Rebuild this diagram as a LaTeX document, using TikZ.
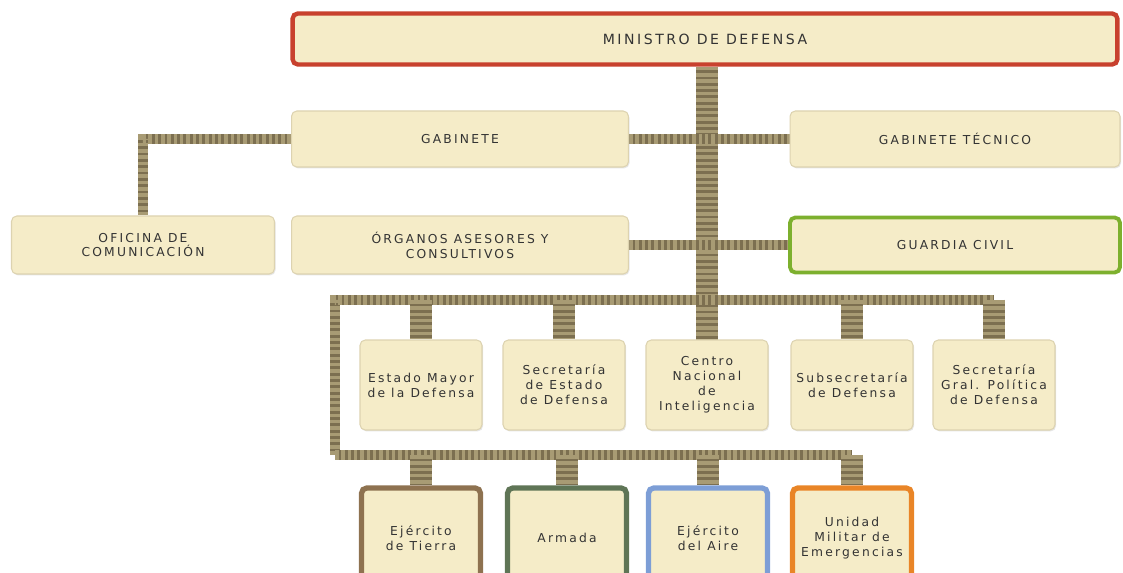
\documentclass[tikz,border=0pt]{standalone}
\usepackage{fontspec}
\setmainfont{DejaVu Sans}[LetterSpace=18]
\usetikzlibrary{shadows,backgrounds}

\definecolor{paper}{HTML}{F5ECC8}
\definecolor{paperedge}{HTML}{DDD3B0}
\definecolor{ropedark}{HTML}{7C6F50}
\definecolor{ropelight}{HTML}{A89B74}
\definecolor{minred}{HTML}{C8412E}
\definecolor{civgreen}{HTML}{7DB02E}
\definecolor{tierra}{HTML}{8E7250}
\definecolor{armada}{HTML}{5F7556}
\definecolor{aire}{HTML}{7D9ED6}
\definecolor{ume}{HTML}{E98527}
\definecolor{ink}{HTML}{333333}

\tikzset{
  unit/.style={draw=paperedge, line width=0.6pt, fill=paper, rounded corners=3pt,
    text=ink, align=center, inner sep=2pt, font=\fontsize{7}{8.5}\selectfont,
    drop shadow={opacity=0.2, shadow xshift=0.6pt, shadow yshift=-0.8pt}},
  bigbox/.style={unit, minimum width=6.74cm, minimum height=1.12cm},
  subbox/.style={unit, minimum width=2.44cm, minimum height=1.8cm},
  armbox/.style={unit, minimum width=2.38cm, minimum height=2cm, line width=3pt, draw=#1},
  rope/.style={line width=12.5pt, draw=ropedark,
    postaction={draw=ropelight, line width=12.5pt, dash pattern=on 2pt off 1.6pt}},
  ropethin/.style={line width=6.2pt, draw=ropedark,
    postaction={draw=ropelight, line width=6.2pt, dash pattern=on 2pt off 1.6pt}}
}

\begin{document}
\begin{tikzpicture}[x=0.02cm, y=-0.02cm]
  \clip (0,0) rectangle (1123,573);

  % top
  \node[unit, minimum width=16.5cm, minimum height=1.02cm, draw=minred, line width=2.5pt,
    font=\fontsize{8}{9.5}\selectfont] (min) at (705,39) {MINISTRO DE DEFENSA};

  % second and third rows
  \node[bigbox] (gab) at (460,139) {GABINETE};
  \node[bigbox, minimum width=6.6cm] (gtec) at (955,139) {GABINETE TÉCNICO};
  \node[unit, minimum width=5.26cm, minimum height=1.16cm] (ofi) at (143,245) {OFICINA DE\\COMUNICACIÓN};
  \node[bigbox, minimum height=1.16cm] (org) at (460,245) {ÓRGANOS ASESORES Y\\CONSULTIVOS};
  \node[bigbox, minimum width=6.6cm, minimum height=1.1cm, draw=civgreen, line width=2.2pt] (gc) at (955,245) {GUARDIA CIVIL};

  % organs
  \node[subbox] (est) at (421,385) {Estado Mayor\\de la Defensa};
  \node[subbox] (sed) at (564,385) {Secretaría\\de Estado\\de Defensa};
  \node[subbox] (cni) at (707,385) {Centro\\Nacional\\de\\Inteligencia};
  \node[subbox] (sub) at (852,385) {Subsecretaría\\de Defensa};
  \node[subbox] (sgp) at (994,385) {Secretaría\\Gral. Política\\de Defensa};

  % armies
  \node[armbox=tierra] (tie) at (421,538) {Ejército\\de Tierra};
  \node[armbox=armada] (arm) at (567,538) {Armada};
  \node[armbox=aire] (aire) at (708,538) {Ejército\\del Aire};
  \node[armbox=ume] (ume) at (852,538) {Unidad\\Militar de\\Emergencias};

  \coordinate (barL) at (335,300);
  \coordinate (barB) at (335,455);

  \begin{scope}[on background layer]
    \draw[rope] (min.south -| cni.north) -- (cni.north);
    \draw[ropethin] (gab.east) -- (gtec.west);
    \draw[ropethin] (org.east) -- (gc.west);
    \draw[ropethin] (gab.west) -| (ofi.north);
    \draw[ropethin] (barB) -- (barL) -- (sgp.north |- barL);
    \draw[ropethin] (barB) -- (ume.north |- barB);
    \foreach \n in {est,sed,sub,sgp}
      \draw[rope] (\n.north |- barL) -- (\n.north);
    \foreach \n in {tie,arm,aire,ume}
      \draw[rope] (\n.north |- barB) -- (\n.north);
  \end{scope}
\end{tikzpicture}
\end{document}
